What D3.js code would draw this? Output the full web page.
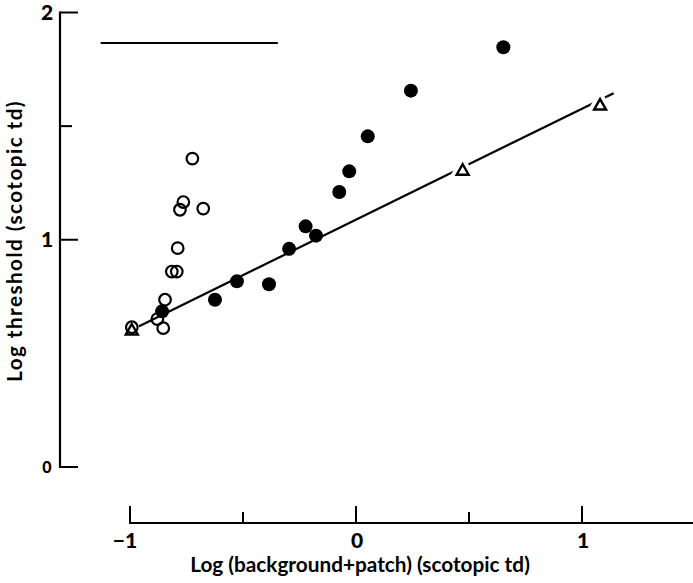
<!DOCTYPE html>
<html><head><meta charset="utf-8">
<script src="https://cdn.jsdelivr.net/npm/d3@7"></script>
<style>
body{margin:0;background:#fff;}
text{font-family:Lato,"Open Sans",sans-serif;font-weight:bold;fill:#000;}
</style></head>
<body><svg id="c" width="693" height="583"></svg>
<script>
// Data (log units)
const filledX = [-0.858,-0.624,-0.527,-0.385,-0.296,-0.223,-0.177,-0.074,-0.030,0.052,0.243,0.652];
const filledY = [0.685,0.736,0.817,0.804,0.960,1.059,1.018,1.210,1.301,1.455,1.656,1.847];
const openX = [-0.992,-0.879,-0.853,-0.845,-0.815,-0.793,-0.789,-0.779,-0.764,-0.676,-0.724];
const openY = [0.615,0.651,0.611,0.736,0.860,0.860,0.963,1.132,1.166,1.137,1.357];
const triX = [-0.992,0.472,1.080];
const triY = [0.605,1.308,1.595];
const fitX = [-1.0,1.14];
const fitY = [0.60,1.645];
const refX = [-1.13,-0.346];
const refY = [1.866,1.866];
const xTicks = [-1,0,1];
const xMinor = [-0.5,0.5,1.5];
const yTicks = [0,1,2];
const yMinor = [1.5];
const xTitle = "Log (background+patch) (scotopic td)";
const yTitle = "Log threshold (scotopic td)";

const svg = d3.select("#c");
const x = d3.scaleLinear().domain([-1,1]).range([130,582]);
const y = d3.scaleLinear().domain([0,2]).range([467,12.5]);
const xAxisY = 523, yAxisX = 60;

// Y axis
svg.append("line").attr("x1",yAxisX).attr("x2",yAxisX).attr("y1",y(0)+1).attr("y2",y(2)-1)
  .attr("stroke","#000").attr("stroke-width",2.2);
yTicks.forEach(t=>{
  svg.append("line").attr("x1",yAxisX).attr("x2",yAxisX+18).attr("y1",y(t)).attr("y2",y(t))
    .attr("stroke","#000").attr("stroke-width",2);
});
yMinor.forEach(t=>{
  svg.append("line").attr("x1",yAxisX).attr("x2",yAxisX+12).attr("y1",y(t)).attr("y2",y(t))
    .attr("stroke","#000").attr("stroke-width",2);
});
svg.selectAll(".yl").data(yTicks).enter().append("text")
  .attr("x",47).attr("y",d=>y(d)).attr("dy","0.36em").attr("text-anchor","middle")
  .style("font-size",d=>d===0?"16px":"21px").style("font-weight","900").text(d=>d);

// X axis
svg.append("line").attr("x1",x(-1)-1).attr("x2",693).attr("y1",xAxisY).attr("y2",xAxisY)
  .attr("stroke","#000").attr("stroke-width",2.2);
xTicks.forEach(t=>{
  svg.append("line").attr("x1",x(t)).attr("x2",x(t)).attr("y1",xAxisY).attr("y2",xAxisY-17)
    .attr("stroke","#000").attr("stroke-width",2);
});
xMinor.forEach(t=>{
  svg.append("line").attr("x1",x(t)).attr("x2",x(t)).attr("y1",xAxisY).attr("y2",xAxisY-11)
    .attr("stroke","#000").attr("stroke-width",2);
});
svg.selectAll(".xl").data(xTicks).enter().append("text")
  .attr("x",d=>d<0?x(d)-5:x(d)+1).attr("y",548).attr("text-anchor","middle")
  .style("font-size","21px").style("font-weight","900").text(d=>d<0?"\u2212"+Math.abs(d):d);

// Titles
const xt = svg.append("text").attr("x",360).attr("y",572).attr("text-anchor","middle")
  .style("font-size","17px").text(xTitle);
function fit(el,target){const w=el.node().getComputedTextLength();const fs=parseFloat(el.style("font-size"));el.style("font-size",(fs*target/w)+"px");}
fit(xt,340);
const yt = svg.append("text").attr("transform","translate(22,241) rotate(-90)")
  .attr("text-anchor","middle").style("font-size",xt.style("font-size")).text(yTitle);
{const w=yt.node().getComputedTextLength(); const n=yTitle.length; yt.style("letter-spacing",((282-w)/n)+"px");}

// reference line
svg.append("line").attr("x1",x(refX[0])).attr("x2",x(refX[1])).attr("y1",y(refY[0])).attr("y2",y(refY[1]))
  .attr("stroke","#000").attr("stroke-width",2);

// fit line
svg.append("line").attr("x1",x(fitX[0])).attr("x2",x(fitX[1])).attr("y1",y(fitY[0])).attr("y2",y(fitY[1]))
  .attr("stroke","#000").attr("stroke-width",2.2);

// triangles
const triPath = "M0,-7.5L7.5,5.5L-7.5,5.5Z";
const tri = d3.range(triX.length).map(i=>({x:triX[i],y:triY[i]}));
svg.selectAll(".th").data(tri).enter().append("path").attr("d",triPath)
  .attr("transform",d=>`translate(${x(d.x)},${y(d.y)})`)
  .attr("fill","#fff").attr("stroke","#fff").attr("stroke-width",8);
svg.selectAll(".tr").data(tri).enter().append("path").attr("d","M0,-5.5L6,5L-6,5Z")
  .attr("transform",d=>`translate(${x(d.x)},${y(d.y)})`)
  .attr("fill","#fff").attr("stroke","#000").attr("stroke-width",2.4);

// filled circles
svg.selectAll(".fc").data(d3.range(filledX.length)).enter().append("circle")
  .attr("cx",i=>x(filledX[i])).attr("cy",i=>y(filledY[i])).attr("r",7).attr("fill","#000");

// open circles
svg.selectAll(".oc").data(d3.range(openX.length)).enter().append("circle")
  .attr("cx",i=>x(openX[i])).attr("cy",i=>y(openY[i])).attr("r",5.8)
  .attr("fill","none").attr("stroke","#000").attr("stroke-width",2.2);
</script></body></html>
